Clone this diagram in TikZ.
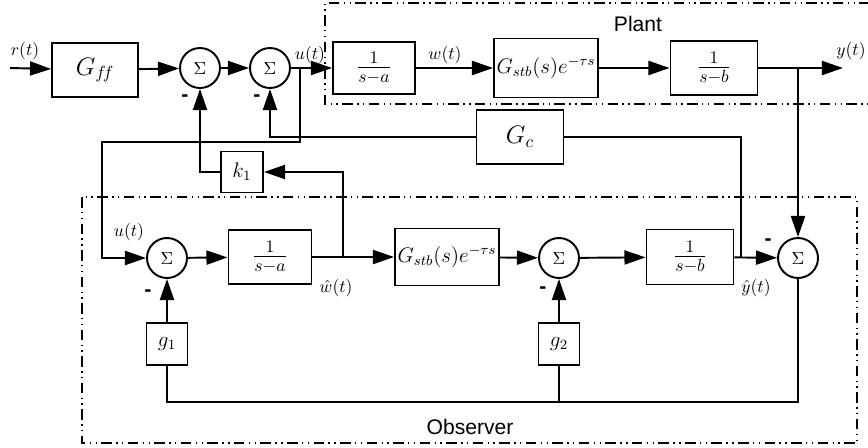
\documentclass[tikz,border=0pt]{standalone}
\usepackage{amsmath}
\usepackage{fontspec}
\newfontfamily\labelfont{Liberation Sans}
\usetikzlibrary{positioning,arrows.meta}
\tikzset{blk/.style={rectangle, draw=black, line width=1.1pt, fill=white, inner sep=0pt, font=\large},
fracblk/.style={blk, font=\Large},
sumc/.style={circle, draw=black, line width=1.1pt, fill=white, minimum size=0.8cm, inner sep=0pt},
arrow/.style={line width=1.1pt,-{Triangle[length=12pt,width=8pt]}},
wire/.style={line width=1.1pt},
frame/.style={line width=0.6pt, dash pattern=on 6pt off 2.5pt on 0.8pt off 2.5pt on 0.8pt off 2.5pt},
sig/.style={inner sep=0pt},
negsign/.style={font=\labelfont\bfseries\large, inner sep=0pt}}

\begin{document}
\begin{tikzpicture}[x=0.02cm, y=-0.02cm]
\useasboundingbox (0,0) rectangle (868,447);
\draw[frame] (870,3) -- (325,3) -- (325,104) -- (870,104);
\draw[frame] (82,197) rectangle (857,443);
\node[font=\labelfont\large] (plant) at (638,24) {Plant};
\node[font=\labelfont\large] (observer) at (470,427) {Observer};

\node (gff) [blk, minimum width=1.72cm, minimum height=1.08cm, font=\Large] at (95,70) {$G_{f\!f}$};
\node (s1) [sumc] at (200,68) {$\Sigma$};
\node (s2) [sumc] at (270,68) {$\Sigma$};
\node (pa) [fracblk, minimum width=1.64cm, minimum height=1.04cm] at (374,68) {$\frac{1}{s-a}$};
\node (pgs) [blk, minimum width=2.08cm, minimum height=1.18cm] at (546,68) {$G_{stb}(s)e^{-\tau s}$};
\node (pb) [fracblk, minimum width=1.74cm, minimum height=1.08cm] at (714,68) {$\frac{1}{s-b}$};
\node (gc) [blk, minimum width=1.74cm, minimum height=1.08cm, font=\Large] at (520,137) {$G_c$};
\node (k1) [blk, minimum width=0.84cm, minimum height=0.82cm] at (242,172) {$k_1$};

\node (os1) [sumc] at (167,258) {$\Sigma$};
\node (oa) [fracblk, minimum width=1.66cm, minimum height=1.08cm] at (270,257) {$\frac{1}{s-a}$};
\node (ogs) [blk, minimum width=2.08cm, minimum height=1.14cm] at (447,257) {$G_{stb}(s)e^{-\tau s}$};
\node (os2) [sumc] at (559,258) {$\Sigma$};
\node (ob) [fracblk, minimum width=1.74cm, minimum height=1.1cm] at (690,257) {$\frac{1}{s-b}$};
\node (os3) [sumc] at (798,258) {$\Sigma$};
\node (g1) [blk, minimum width=0.82cm, minimum height=0.84cm] at (167,344) {$g_1$};
\node (g2) [blk, minimum width=0.82cm, minimum height=0.84cm] at (559,344) {$g_2$};

\coordinate (rin) at (10,68);
\coordinate (ubr) at (300,68);
\coordinate (ybr) at (798,68);
\coordinate (yout) at (843,68);
\coordinate (ul) at (102,142);
\coordinate (wbr) at (343,258);
\coordinate (yhbr) at (741,258);
\coordinate (bl) at (167,402);

\draw [arrow] (rin) -- (gff);
\draw [arrow] (gff) -- (s1);
\draw [arrow] (s1) -- (s2);
\draw [arrow] (s2) -- (pa);
\draw [arrow] (pa) -- (pgs);
\draw [arrow] (pgs) -- (pb);
\draw [arrow] (pb) -- (yout);
\draw [arrow] (ybr) -- (os3);
\draw [arrow] (ubr) |- (ul) |- (os1);
\draw [wire] (yhbr) |- (gc);
\draw [arrow] (gc) -| (s2);
\draw [arrow] (wbr) |- (k1);
\draw [arrow] (k1) -| (s1);
\draw [arrow] (os1) -- (oa);
\draw [arrow] (oa) -- (ogs);
\draw [arrow] (ogs) -- (os2);
\draw [arrow] (os2) -- (ob);
\draw [arrow] (ob) -- (os3);
\draw [wire] (os3) |- (bl) -- (g1);
\draw [wire] (g2) -- (g2 |- bl);
\draw [arrow] (g1) -- (os1);
\draw [arrow] (g2) -- (os2);

\node (rlbl) [sig] at (25,51) {$r(t)$};
\node (ulbl) [sig] at (310,55) {$u(t)$};
\node (wlbl) [sig] at (445,55) {$w(t)$};
\node (ylbl) [sig] at (851,51) {$y(t)$};
\node (uolbl) [sig] at (129,232) {$u(t)$};
\node (whlbl) [sig] at (336,288) {$\hat{w}(t)$};
\node (yhlbl) [sig] at (756,288) {$\hat{y}(t)$};

\node (m1) [negsign] at (185,98) {-};
\node (m2) [negsign] at (257,98) {-};
\node (m3) [negsign] at (148,293) {-};
\node (m4) [negsign] at (543,290) {-};
\node (m5) [negsign] at (768,242) {-};
\end{tikzpicture}
\end{document}
